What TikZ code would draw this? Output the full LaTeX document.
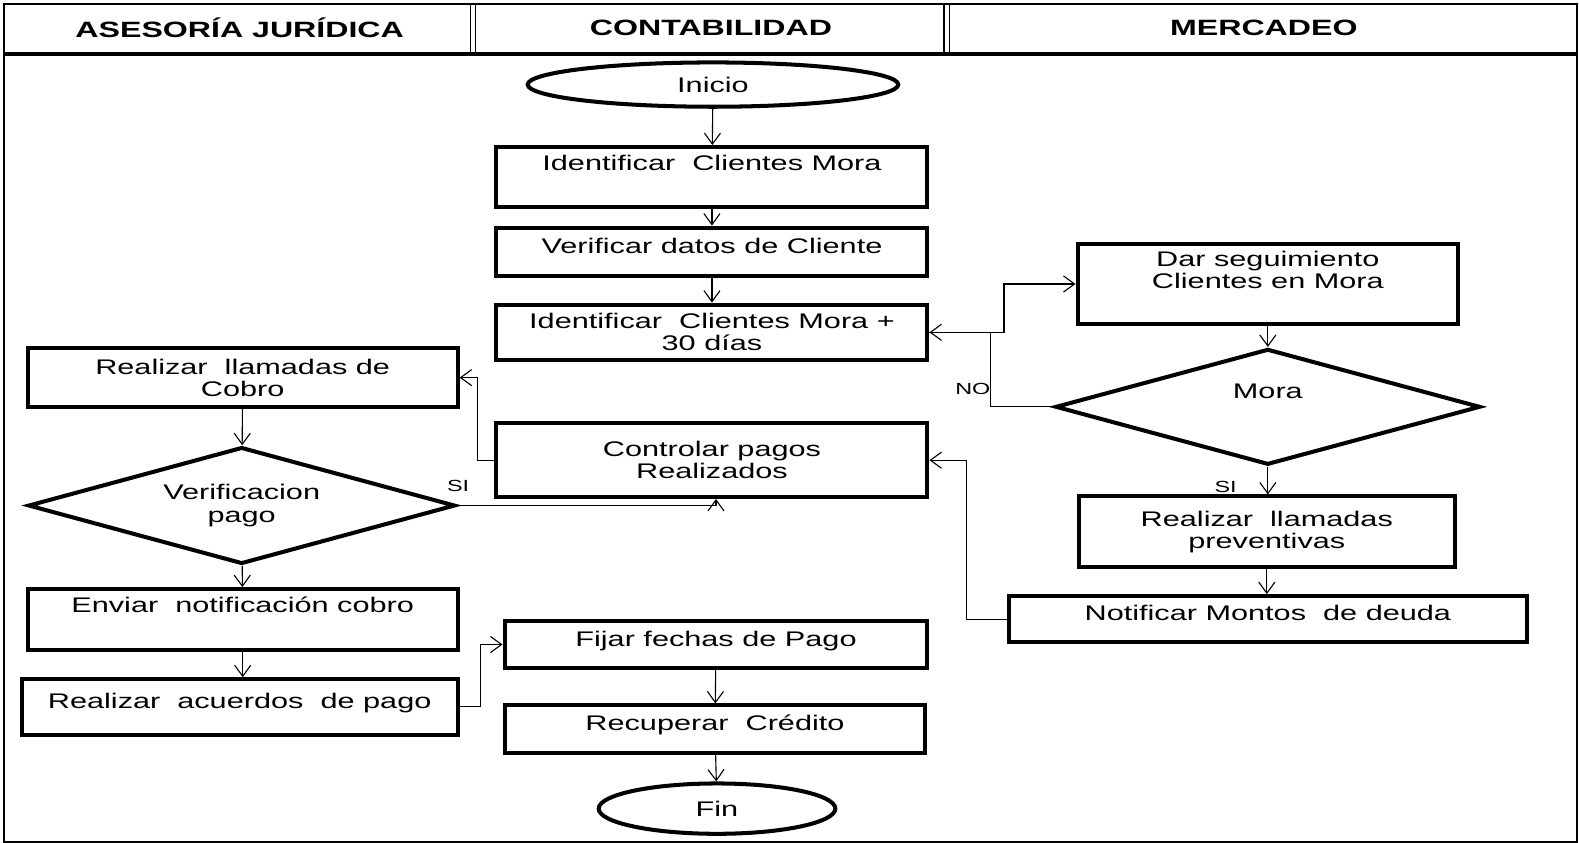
\documentclass[tikz,border=0pt]{standalone}
\usepackage{fontspec}
\setmainfont{Liberation Sans}[FakeStretch=1.45]
\usetikzlibrary{shapes.geometric,arrows.meta}
\begin{document}
\begin{tikzpicture}[x=1pt,y=-1pt,
  boxfont/.style={font=\fontsize{21}{22}\selectfont},
  proc/.style={draw,line width=4pt,rectangle,inner sep=0pt,align=center,boxfont},
  oneline/.style={text depth=12pt},
  term/.style={draw,line width=4pt,ellipse,inner sep=0pt,boxfont},
  dec/.style={draw,line width=4pt,diamond,aspect=3.6,inner sep=0pt,align=center,boxfont},
  conn/.style={line width=1.1pt,-{Straight Barb[length=11pt,width=16pt]}},
  lane/.style={font=\bfseries\fontsize{22}{24}\selectfont,inner sep=0pt},
  tag/.style={font=\fontsize{16}{18}\selectfont,inner sep=0pt}
]
\useasboundingbox (0,0) rectangle (1568,837);

% swimlane frame and header
\draw[line width=2pt] (4,4) rectangle (1566,836);
\draw[line width=4pt] (4,54) -- (1566,54);
\foreach \cx in {470,940}{
  \draw[line width=1.2pt] (\cx-2.5,3) -- (\cx-2.5,54);
  \draw[line width=1.2pt] (\cx+2.5,3) -- (\cx+2.5,54);
}
\node[lane] (hjur) at (238,28) {ASESORÍA JURÍDICA};
\node[lane] (hcon) at (706,28) {CONTABILIDAD};
\node[lane] (hmer) at (1255,28) {MERCADEO};

% Contabilidad
\node[term,minimum width=368pt,minimum height=44pt] (inicio) at (708,84) {Inicio};
\node[proc,minimum width=428pt,minimum height=60pt] (ident) at (707,176) {Identificar\ \ Clientes Mora\\ \strut};
\node[proc,oneline,minimum width=428pt,minimum height=48pt] (verif) at (707,250) {Verificar datos de Cliente};
\node[proc,minimum width=428pt,minimum height=55pt] (ident30) at (707,330) {Identificar\ \ Clientes Mora +\\30 días};
\node[proc,minimum width=428pt,minimum height=73pt] (control) at (707,457) {Controlar pagos\\Realizados};
\node[proc,oneline,minimum width=420pt,minimum height=47pt] (fijar) at (711,640) {Fijar fechas de Pago};
\node[proc,oneline,minimum width=417pt,minimum height=47pt] (recup) at (710,724) {Recuperar\ \ Crédito};
\node[term,minimum width=235pt,minimum height=50pt] (fin) at (712,803) {Fin};

% Asesoría jurídica
\node[proc,minimum width=427pt,minimum height=58pt] (llamcobro) at (241,375) {Realizar\ \ llamadas de\\Cobro};
\node[dec,minimum width=424pt,minimum height=116pt] (verpago) at (240,502) {Verificacion\\pago};
\node[proc,minimum width=427pt,minimum height=60pt] (enviar) at (241,615) {Enviar\ \ notificación cobro\\ \strut};
\node[proc,oneline,minimum width=433pt,minimum height=55pt] (acuerdos) at (238,702) {Realizar\ \ acuerdos\ \ de pago};

% Mercadeo
\node[proc,minimum width=378pt,minimum height=79pt] (darseg) at (1259,282) {Dar seguimiento\\Clientes en Mora\\ \strut};
\node[dec,minimum width=422pt,minimum height=115pt] (mora) at (1259,404) {Mora\\[2pt] \strut};
\node[proc,minimum width=373pt,minimum height=70pt] (prevent) at (1258,528) {Realizar\ \ llamadas\\preventivas};
\node[proc,oneline,minimum width=515pt,minimum height=46pt] (notif) at (1259,615) {Notificar\ Montos\ \ de deuda};

% connectors
\draw[conn] (inicio) -- (ident);
\draw[conn] (ident) -- (verif);
\draw[conn] (verif) -- (ident30);
\draw[conn] (ident30.east) -- ++(74,0) |- (darseg.west);
\draw[conn] (mora.west) -- ++(-62,0) |- (ident30.east);
\node[tag] (lno) at (966,386) {NO};
\draw[conn] (darseg) -- (mora);
\draw[conn] (mora.south) -- (mora.south |- prevent.north);
\node[tag] (lsi1) at (1217,484) {SI};
\draw[conn] (prevent.south) -- (prevent.south |- notif.north);
\draw[conn] (notif.west) -- ++(-40,0) |- (control.east);
\draw[conn] (control.west) -- ++(-17,0) |- (llamcobro.east);
\draw[conn] (llamcobro) -- (verpago);
\draw[conn] (verpago.east) -| ([xshift=4pt]control.south);
\node[tag] (lsi2) at (455,483) {SI};
\draw[conn] (verpago) -- (enviar);
\draw[conn] (enviar.south) -- (enviar.south |- acuerdos.north);
\draw[conn] (acuerdos.east) -- ++(21,0) |- (fijar.west);
\draw[conn] (fijar) -- (recup);
\draw[conn] (recup) -- (fin);
\end{tikzpicture}
\end{document}
